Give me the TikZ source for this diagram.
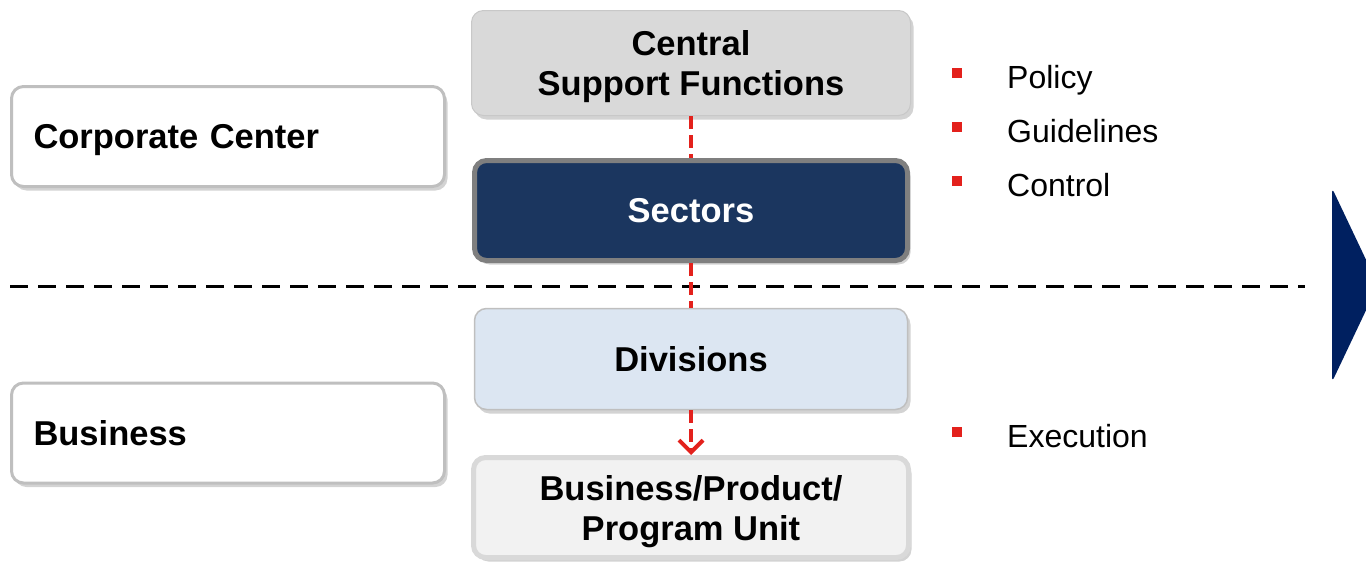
\documentclass[tikz,border=0pt]{standalone}
\usepackage{fontspec}
\setmainfont{Liberation Sans}
\usetikzlibrary{arrows.meta, positioning, shadows}
\definecolor{SecBlue}{HTML}{1B365F}
\definecolor{SecLine}{HTML}{7F7F7F}
\definecolor{CsfGray}{HTML}{D9D9D9}
\definecolor{CsfLine}{HTML}{C8C8C8}
\definecolor{DivBlue}{HTML}{DCE6F2}
\definecolor{DivLine}{HTML}{BFBFBF}
\definecolor{UnitGray}{HTML}{F2F2F2}
\definecolor{UnitLine}{HTML}{D9D9D9}
\definecolor{LinkRed}{HTML}{E3211C}
\definecolor{ChevBlue}{HTML}{002060}
\tikzset{
  box/.style={rounded corners=12pt,align=center,inner sep=0pt,text depth=0pt,
    font=\bfseries\fontsize{34.5}{40}\selectfont,
    drop shadow={opacity=.35,shadow xshift=3pt,shadow yshift=-4pt}},
  gn/.style={box,draw=CsfLine,line width=1pt,fill=CsfGray,minimum width=439pt,minimum height=105pt},
  dn/.style={box,draw=SecLine,line width=5pt,fill=SecBlue,text=white,minimum width=433pt,minimum height=100pt},
  ln/.style={box,draw=DivLine,line width=1.5pt,fill=DivBlue,minimum width=433pt,minimum height=101pt},
  un/.style={box,draw=UnitLine,line width=5pt,fill=UnitGray,minimum width=435pt,minimum height=100pt},
  wn/.style={box,draw=DivLine,line width=3pt,fill=white,align=left,inner xsep=22pt,text width=389pt,minimum height=100pt},
  rl/.style={draw=LinkRed,line width=4pt,dash pattern=on 13pt off 6pt},
  bul/.style={fill=LinkRed,minimum size=10pt,inner sep=0pt},
}

\begin{document}
\begin{tikzpicture}[x=1pt,y=1pt]
  \useasboundingbox (0,0) rectangle (1366,-562);

  % chevron on the right edge
  \begin{scope}
    \clip (0,0) rectangle (1366,-562);
    \fill [ChevBlue,rounded corners=5pt] (1332,-188) -- (1378,-285) -- (1332,-382) -- cycle;
  \end{scope}

  \draw [line width=3pt,dash pattern=on 18pt off 10pt] (10,-286) -- (1305,-286);

  \node [wn] (corp) at (228,-136.5) {Corporate Center};
  \node [wn] (biz) at (228,-433) {Business};

  \node [gn] (csf) at (691,-63) {Central\\Support Functions};
  \node [dn] (sec) at (691,-210.5) {Sectors};
  \node [ln] (div) at (691,-359) {Divisions};
  \node [un] (unit) at (691,-507.5) {Business/Product/\\Program Unit};

  \draw [rl] (csf) -- (sec);
  \draw [rl] (sec) -- (div);
  \draw [rl,-{Straight Barb[length=12pt,width=24pt,line width=4pt]}] (div) -- (unit);

  \foreach \Y/\Item in {88/Policy, 142/Guidelines, 196/Control, 447/Execution}{
    \node [bul] (b-\Item) at (957,-\Y+15) {};
    \node [anchor=base west,inner sep=0pt,font=\fontsize{32}{38}\selectfont] (t-\Item) at (1007,-\Y) {\Item};
  }
\end{tikzpicture}
\end{document}
